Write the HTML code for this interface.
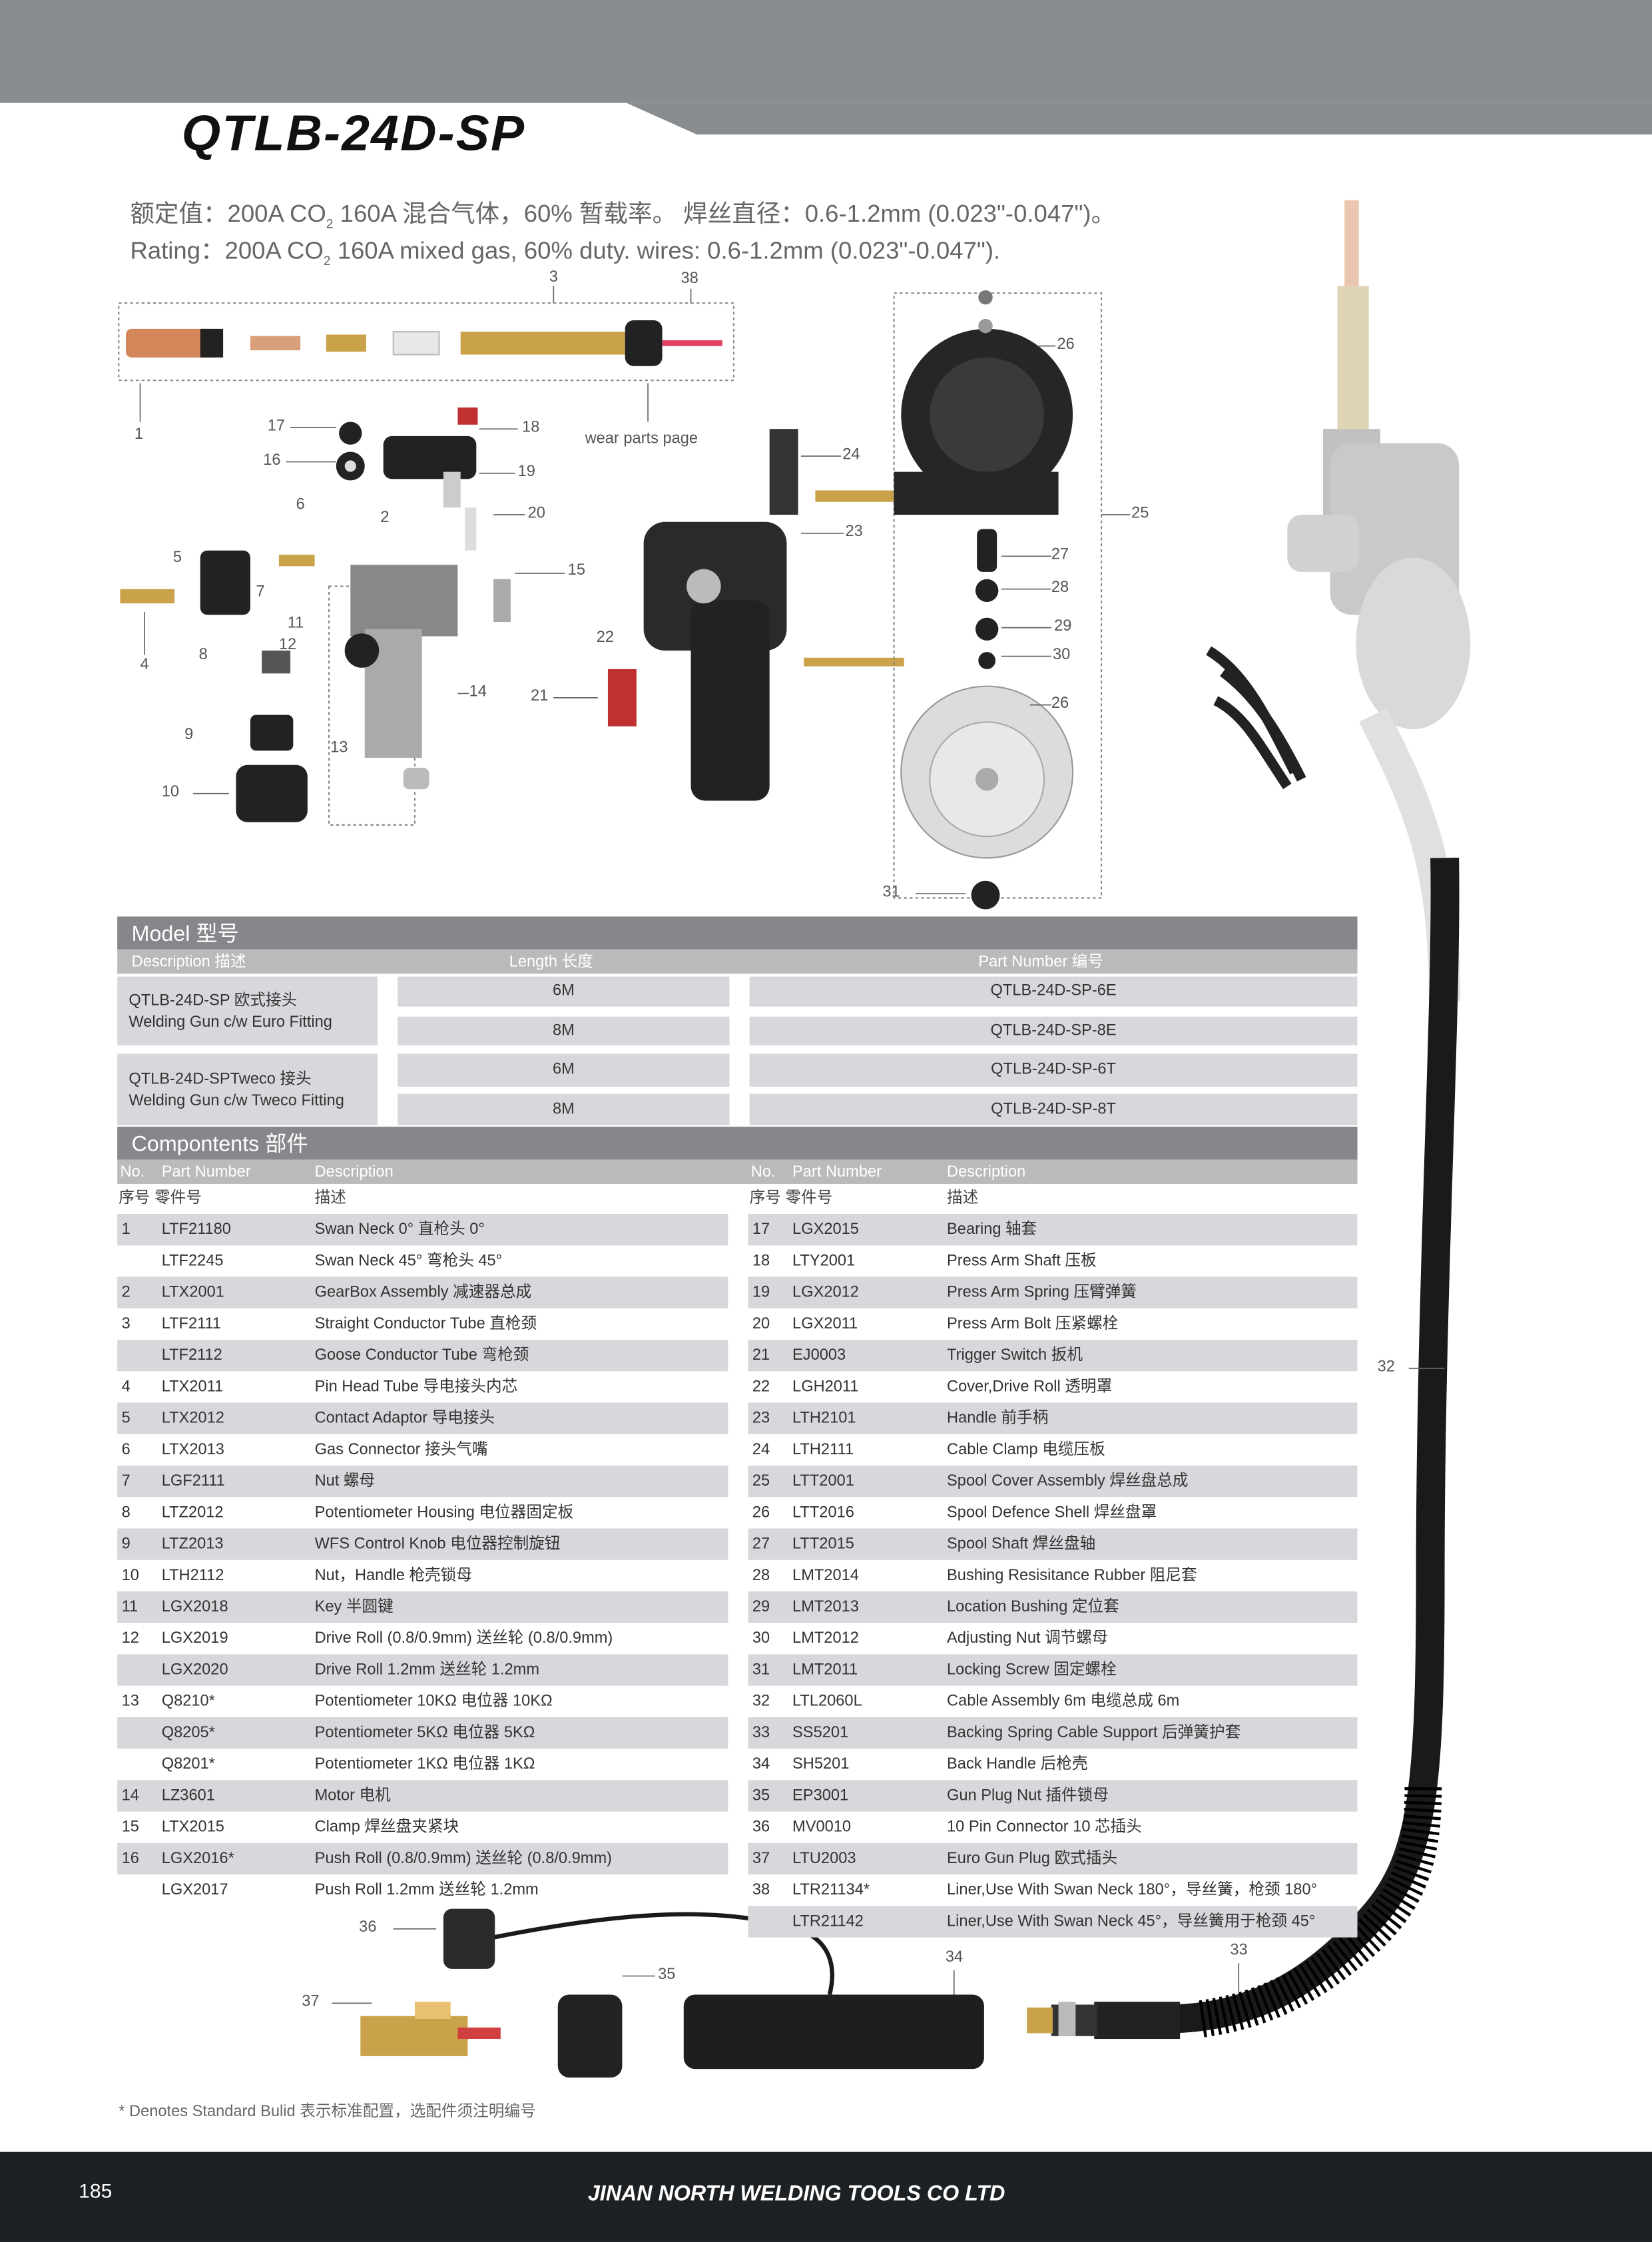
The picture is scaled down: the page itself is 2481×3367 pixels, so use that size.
<!DOCTYPE html>
<html><head><meta charset="utf-8">
<style>
html,body{margin:0;padding:0;background:#fff;}
body{width:2481px;height:3367px;overflow:hidden;position:relative;}
#p{position:absolute;left:0;top:0;width:1155px;height:1568px;transform:scale(2.1481,2.1473);transform-origin:0 0;font-family:"Liberation Sans","Noto Sans CJK SC",sans-serif;color:#333;}
.a{position:absolute;white-space:nowrap;}
.lb{position:absolute;font-size:11px;color:#555;white-space:nowrap;}
.dk{position:absolute;background:#86878b;color:#fff;}
.lt{position:absolute;background:#b8babc;color:#fff;}
.sh{position:absolute;background:#d6d8db;}
.r{position:absolute;height:22px;font-size:11px;color:#333;line-height:22px;}
.r span{position:absolute;white-space:nowrap;}
</style></head><body><div id="p">
<svg width="1155" height="1568" style="position:absolute;left:0;top:0">
<rect x="0" y="0" width="1155" height="72" fill="#8a8d8f"/>
<polygon points="438,72 487,94 1155,94 1155,72" fill="#8a8d8f"/>
<g opacity="0.45">
<rect x="935" y="200" width="22" height="100" fill="#bba060"/>
<rect x="940" y="140" width="10" height="60" fill="#d08050"/>
<rect x="925" y="300" width="40" height="60" fill="#777"/>
<rect x="930" y="310" width="90" height="120" rx="15" fill="#888"/>
<rect x="900" y="360" width="50" height="40" rx="10" fill="#999"/>
<ellipse cx="988" cy="450" rx="40" ry="60" fill="#aaa"/>
<path d="M960,500 C990,560 1010,600 1010,700" stroke="#bbb" stroke-width="22" fill="none"/>
</g>
<path d="M1010,600 C1012,700 1000,900 1000,1100 C1000,1250 995,1300 960,1340 C920,1385 880,1410 820,1412" stroke="#1a1a1a" stroke-width="20" fill="none"/>
<path d="M995,1250 C995,1300 985,1330 950,1360 C920,1385 890,1405 840,1412" stroke="#000" stroke-width="26" stroke-dasharray="2,3" fill="none"/>
<path d="M845,455 C870,470 885,500 905,540 M855,470 C875,485 890,505 910,545 M850,490 C870,500 880,520 900,550" stroke="#222" stroke-width="7" fill="none"/>
<rect x="765" y="1400" width="60" height="26" fill="#222"/>
<rect x="735" y="1402" width="32" height="22" fill="#333"/>
<rect x="718" y="1404" width="18" height="18" fill="#c9a24a"/>
<rect x="740" y="1400" width="12" height="24" fill="#bbb"/>
<rect x="83" y="212" width="430" height="54" fill="none" stroke="#888" stroke-dasharray="2,2"/>
<rect x="88" y="230" width="65" height="20" rx="4" fill="#d4875a"/>
<rect x="140" y="230" width="16" height="20" fill="#222"/>
<rect x="175" y="235" width="35" height="10" fill="#d9a07a"/>
<rect x="228" y="234" width="28" height="12" fill="#c9a24a"/>
<rect x="275" y="232" width="32" height="16" fill="#e8e8e8" stroke="#bbb"/>
<rect x="322" y="232" width="115" height="16" fill="#c9a24a"/>
<rect x="437" y="224" width="26" height="32" rx="6" fill="#222"/>
<rect x="463" y="238" width="42" height="4" fill="#e04060"/>
<rect x="230" y="410" width="60" height="167" fill="none" stroke="#888" stroke-dasharray="2,2"/>
<rect x="245" y="395" width="75" height="50" fill="#888"/>
<rect x="255" y="440" width="40" height="90" fill="#aaa"/>
<rect x="268" y="305" width="65" height="30" rx="6" fill="#222"/>
<rect x="320" y="285" width="14" height="12" fill="#c03030"/>
<circle cx="245" cy="303" r="8" fill="#222"/>
<circle cx="245" cy="326" r="10" fill="#222"/>
<circle cx="245" cy="326" r="4" fill="#ddd"/>
<circle cx="253" cy="455" r="12" fill="#222"/>
<rect x="140" y="385" width="35" height="45" rx="5" fill="#222"/>
<rect x="84" y="412" width="38" height="10" fill="#c9a24a"/>
<rect x="195" y="388" width="25" height="8" fill="#c9a24a"/>
<rect x="183" y="455" width="20" height="16" fill="#555"/>
<rect x="175" y="500" width="30" height="25" rx="4" fill="#222"/>
<rect x="165" y="535" width="50" height="40" rx="8" fill="#222"/>
<rect x="345" y="405" width="12" height="30" fill="#aaa"/>
<rect x="425" y="468" width="20" height="40" fill="#c03030"/>
<rect x="310" y="330" width="12" height="25" fill="#ccc"/>
<rect x="325" y="355" width="8" height="30" fill="#ddd"/>
<rect x="282" y="537" width="18" height="15" rx="4" fill="#bbb"/>
<rect x="450" y="365" width="100" height="90" rx="15" fill="#2a2a2a"/>
<rect x="483" y="420" width="55" height="140" rx="10" fill="#222"/>
<circle cx="492" cy="410" r="12" fill="#bbb"/>
<rect x="538" y="300" width="20" height="60" fill="#333"/>
<rect x="570" y="343" width="55" height="8" fill="#c9a24a"/>
<rect x="562" y="460" width="70" height="6" fill="#c9a24a"/>
<rect x="625" y="205" width="145" height="423" fill="none" stroke="#888" stroke-dasharray="2,2"/>
<circle cx="690" cy="290" r="60" fill="#262626"/>
<circle cx="690" cy="290" r="40" fill="#3a3a3a"/>
<rect x="625" y="330" width="115" height="30" fill="#262626"/>
<circle cx="690" cy="540" r="60" fill="#dcdcdc" stroke="#999"/>
<circle cx="690" cy="545" r="40" fill="#e8e8e8" stroke="#aaa"/>
<circle cx="690" cy="545" r="8" fill="#aaa"/>
<rect x="683" y="370" width="14" height="30" rx="4" fill="#222"/>
<circle cx="690" cy="413" r="8" fill="#222"/>
<circle cx="690" cy="440" r="8" fill="#222"/>
<circle cx="690" cy="462" r="6" fill="#222"/>
<circle cx="689" cy="626" r="10" fill="#222"/>
<circle cx="689" cy="208" r="5" fill="#777"/>
<circle cx="689" cy="228" r="5" fill="#999"/>
<g stroke="#666" stroke-width="0.8">
<line x1="387" y1="200" x2="387" y2="212"/><line x1="483" y1="202" x2="483" y2="212"/>
<line x1="98" y1="268" x2="98" y2="295"/><line x1="203" y1="299" x2="235" y2="299"/><line x1="335" y1="300" x2="362" y2="300"/>
<line x1="200" y1="323" x2="235" y2="323"/><line x1="335" y1="331" x2="360" y2="331"/><line x1="345" y1="360" x2="367" y2="360"/>
<line x1="360" y1="401" x2="395" y2="401"/><line x1="101" y1="428" x2="101" y2="458"/><line x1="320" y1="485" x2="328" y2="485"/>
<line x1="387" y1="488" x2="418" y2="488"/><line x1="135" y1="555" x2="160" y2="555"/><line x1="560" y1="319" x2="588" y2="319"/>
<line x1="560" y1="373" x2="590" y2="373"/><line x1="700" y1="389" x2="735" y2="389"/><line x1="700" y1="412" x2="735" y2="412"/>
<line x1="700" y1="439" x2="735" y2="439"/><line x1="700" y1="459" x2="735" y2="459"/><line x1="720" y1="493" x2="735" y2="493"/>
<line x1="725" y1="242" x2="738" y2="242"/><line x1="770" y1="360" x2="790" y2="360"/><line x1="640" y1="625" x2="675" y2="625"/>
<line x1="985" y1="957" x2="1010" y2="957"/><line x1="275" y1="1349" x2="305" y2="1349"/><line x1="435" y1="1382" x2="458" y2="1382"/>
<line x1="232" y1="1401" x2="260" y2="1401"/><line x1="667" y1="1378" x2="667" y2="1395"/><line x1="866" y1="1373" x2="866" y2="1393"/>
<line x1="453" y1="268" x2="453" y2="295"/>
</g>
<path d="M345,1355 C420,1340 500,1330 560,1350 C580,1358 585,1375 580,1395" stroke="#1a1a1a" stroke-width="3" fill="none"/>
<rect x="310" y="1335" width="36" height="42" rx="6" fill="#2a2a2a"/>
<rect x="252" y="1410" width="75" height="28" fill="#c9a24a"/>
<rect x="290" y="1400" width="25" height="12" fill="#e8c070"/>
<rect x="320" y="1418" width="30" height="8" fill="#d04040"/>
<rect x="390" y="1395" width="45" height="58" rx="8" fill="#222"/>
<rect x="478" y="1395" width="210" height="52" rx="8" fill="#1e1e1e"/>
<rect x="0" y="1505" width="1155" height="63" fill="#1e2124"/>
</svg>
<div class="a" style="left:127px;top:74px;font-size:35px;font-weight:bold;font-style:italic;color:#111;letter-spacing:1px">QTLB-24D-SP</div>
<div class="a" style="left:91px;top:135px;font-size:17px;color:#666">额定值：200A CO<sub style="font-size:9px">2</sub> 160A 混合气体，60% 暂载率。 焊丝直径：0.6-1.2mm (0.023"-0.047")。</div>
<div class="a" style="left:91px;top:161px;font-size:17px;color:#666">Rating：200A CO<sub style="font-size:9px">2</sub> 160A mixed gas, 60% duty. wires: 0.6-1.2mm (0.023"-0.047").</div>
<div class="lb" style="left:384px;top:188px">3</div><div class="lb" style="left:476px;top:189px">38</div>
<div class="lb" style="left:94px;top:298px">1</div><div class="lb" style="left:187px;top:292px">17</div><div class="lb" style="left:365px;top:293px">18</div>
<div class="lb" style="left:184px;top:316px">16</div><div class="lb" style="left:362px;top:324px">19</div><div class="lb" style="left:207px;top:347px">6</div>
<div class="lb" style="left:266px;top:356px">2</div><div class="lb" style="left:369px;top:353px">20</div><div class="lb" style="left:121px;top:384px">5</div>
<div class="lb" style="left:179px;top:408px">7</div><div class="lb" style="left:397px;top:393px">15</div><div class="lb" style="left:201px;top:430px">11</div>
<div class="lb" style="left:195px;top:445px">12</div><div class="lb" style="left:417px;top:440px">22</div><div class="lb" style="left:98px;top:459px">4</div>
<div class="lb" style="left:139px;top:452px">8</div><div class="lb" style="left:328px;top:478px">14</div><div class="lb" style="left:371px;top:481px">21</div>
<div class="lb" style="left:129px;top:508px">9</div><div class="lb" style="left:231px;top:517px">13</div><div class="lb" style="left:113px;top:548px">10</div>
<div class="lb" style="left:409px;top:301px">wear parts page</div>
<div class="lb" style="left:739px;top:235px">26</div><div class="lb" style="left:589px;top:312px">24</div><div class="lb" style="left:791px;top:353px">25</div>
<div class="lb" style="left:591px;top:366px">23</div><div class="lb" style="left:735px;top:382px">27</div><div class="lb" style="left:735px;top:405px">28</div>
<div class="lb" style="left:737px;top:432px">29</div><div class="lb" style="left:736px;top:452px">30</div><div class="lb" style="left:735px;top:486px">26</div>
<div class="lb" style="left:617px;top:618px">31</div><div class="lb" style="left:963px;top:950px">32</div><div class="lb" style="left:251px;top:1342px">36</div>
<div class="lb" style="left:460px;top:1375px">35</div><div class="lb" style="left:211px;top:1394px">37</div><div class="lb" style="left:661px;top:1363px">34</div>
<div class="lb" style="left:860px;top:1358px">33</div>

<div class="dk" style="left:82px;top:641px;width:867px;height:23px;font-size:15px;line-height:25px;padding-left:10px;box-sizing:border-box">Model 型号</div>
<div class="lt" style="left:82px;top:664px;width:867px;height:17px;font-size:11px;line-height:18px"><span class="a" style="left:10px">Description 描述</span><span class="a" style="left:274px">Length 长度</span><span class="a" style="left:602px">Part Number 编号</span></div>
<div class="sh" style="left:82px;top:683px;width:182px;height:48px"></div>
<div class="sh" style="left:82px;top:737px;width:182px;height:50px"></div>
<div class="a" style="left:90px;top:693px;font-size:11px;line-height:15px">QTLB-24D-SP 欧式接头<br>Welding Gun c/w Euro Fitting</div>
<div class="a" style="left:90px;top:748px;font-size:11px;line-height:15px">QTLB-24D-SPTweco 接头<br>Welding Gun c/w Tweco Fitting</div>
<div class="sh" style="left:278px;top:683px;width:232px;height:21px;font-size:11px;line-height:21px;text-align:center">6M</div>
<div class="sh" style="left:278px;top:711px;width:232px;height:20px;font-size:11px;line-height:20px;text-align:center">8M</div>
<div class="sh" style="left:278px;top:737px;width:232px;height:23px;font-size:11px;line-height:23px;text-align:center">6M</div>
<div class="sh" style="left:278px;top:765px;width:232px;height:22px;font-size:11px;line-height:22px;text-align:center">8M</div>
<div class="sh" style="left:524px;top:683px;width:425px;height:21px;font-size:11px;line-height:21px;text-align:center">QTLB-24D-SP-6E</div>
<div class="sh" style="left:524px;top:711px;width:425px;height:20px;font-size:11px;line-height:20px;text-align:center">QTLB-24D-SP-8E</div>
<div class="sh" style="left:524px;top:737px;width:425px;height:23px;font-size:11px;line-height:23px;text-align:center">QTLB-24D-SP-6T</div>
<div class="sh" style="left:524px;top:765px;width:425px;height:22px;font-size:11px;line-height:22px;text-align:center">QTLB-24D-SP-8T</div>

<div class="dk" style="left:82px;top:788px;width:867px;height:23px;font-size:15px;line-height:25px;padding-left:10px;box-sizing:border-box">Compontents 部件</div>
<div class="lt" style="left:82px;top:811px;width:867px;height:17px;font-size:11px;line-height:19px"><span class="a" style="left:2px">No.</span><span class="a" style="left:31px">Part Number</span><span class="a" style="left:138px">Description</span><span class="a" style="left:443px">No.</span><span class="a" style="left:472px">Part Number</span><span class="a" style="left:580px">Description</span></div>
<div class="a" style="left:83px;top:829px;font-size:11px;color:#444">序号 零件号</div><div class="a" style="left:220px;top:829px;font-size:11px;color:#444">描述</div>
<div class="a" style="left:524px;top:829px;font-size:11px;color:#444">序号 零件号</div><div class="a" style="left:662px;top:829px;font-size:11px;color:#444">描述</div>

<div class="r" style="left:82px;top:849px;width:427px;background:#d6d8db"><span style="left:3px">1</span><span style="left:31px">LTF21180</span><span style="left:138px">Swan Neck 0° 直枪头 0°</span></div>
<div class="r" style="left:82px;top:871px;width:427px"><span style="left:31px">LTF2245</span><span style="left:138px">Swan Neck 45° 弯枪头 45°</span></div>
<div class="r" style="left:82px;top:893px;width:427px;background:#d6d8db"><span style="left:3px">2</span><span style="left:31px">LTX2001</span><span style="left:138px">GearBox Assembly 减速器总成</span></div>
<div class="r" style="left:82px;top:915px;width:427px"><span style="left:3px">3</span><span style="left:31px">LTF2111</span><span style="left:138px">Straight Conductor Tube 直枪颈</span></div>
<div class="r" style="left:82px;top:937px;width:427px;background:#d6d8db"><span style="left:31px">LTF2112</span><span style="left:138px">Goose Conductor Tube 弯枪颈</span></div>
<div class="r" style="left:82px;top:959px;width:427px"><span style="left:3px">4</span><span style="left:31px">LTX2011</span><span style="left:138px">Pin Head Tube 导电接头内芯</span></div>
<div class="r" style="left:82px;top:981px;width:427px;background:#d6d8db"><span style="left:3px">5</span><span style="left:31px">LTX2012</span><span style="left:138px">Contact Adaptor 导电接头</span></div>
<div class="r" style="left:82px;top:1003px;width:427px"><span style="left:3px">6</span><span style="left:31px">LTX2013</span><span style="left:138px">Gas Connector 接头气嘴</span></div>
<div class="r" style="left:82px;top:1025px;width:427px;background:#d6d8db"><span style="left:3px">7</span><span style="left:31px">LGF2111</span><span style="left:138px">Nut 螺母</span></div>
<div class="r" style="left:82px;top:1047px;width:427px"><span style="left:3px">8</span><span style="left:31px">LTZ2012</span><span style="left:138px">Potentiometer Housing 电位器固定板</span></div>
<div class="r" style="left:82px;top:1069px;width:427px;background:#d6d8db"><span style="left:3px">9</span><span style="left:31px">LTZ2013</span><span style="left:138px">WFS Control Knob 电位器控制旋钮</span></div>
<div class="r" style="left:82px;top:1091px;width:427px"><span style="left:3px">10</span><span style="left:31px">LTH2112</span><span style="left:138px">Nut，Handle 枪壳锁母</span></div>
<div class="r" style="left:82px;top:1113px;width:427px;background:#d6d8db"><span style="left:3px">11</span><span style="left:31px">LGX2018</span><span style="left:138px">Key 半圆键</span></div>
<div class="r" style="left:82px;top:1135px;width:427px"><span style="left:3px">12</span><span style="left:31px">LGX2019</span><span style="left:138px">Drive Roll (0.8/0.9mm) 送丝轮 (0.8/0.9mm)</span></div>
<div class="r" style="left:82px;top:1157px;width:427px;background:#d6d8db"><span style="left:31px">LGX2020</span><span style="left:138px">Drive Roll 1.2mm 送丝轮 1.2mm</span></div>
<div class="r" style="left:82px;top:1179px;width:427px"><span style="left:3px">13</span><span style="left:31px">Q8210*</span><span style="left:138px">Potentiometer 10KΩ 电位器 10KΩ</span></div>
<div class="r" style="left:82px;top:1201px;width:427px;background:#d6d8db"><span style="left:31px">Q8205*</span><span style="left:138px">Potentiometer 5KΩ 电位器 5KΩ</span></div>
<div class="r" style="left:82px;top:1223px;width:427px"><span style="left:31px">Q8201*</span><span style="left:138px">Potentiometer 1KΩ 电位器 1KΩ</span></div>
<div class="r" style="left:82px;top:1245px;width:427px;background:#d6d8db"><span style="left:3px">14</span><span style="left:31px">LZ3601</span><span style="left:138px">Motor 电机</span></div>
<div class="r" style="left:82px;top:1267px;width:427px"><span style="left:3px">15</span><span style="left:31px">LTX2015</span><span style="left:138px">Clamp 焊丝盘夹紧块</span></div>
<div class="r" style="left:82px;top:1289px;width:427px;background:#d6d8db"><span style="left:3px">16</span><span style="left:31px">LGX2016*</span><span style="left:138px">Push Roll (0.8/0.9mm) 送丝轮 (0.8/0.9mm)</span></div>
<div class="r" style="left:82px;top:1311px;width:427px"><span style="left:31px">LGX2017</span><span style="left:138px">Push Roll 1.2mm 送丝轮 1.2mm</span></div>

<div class="r" style="left:523px;top:849px;width:426px;background:#d6d8db"><span style="left:3px">17</span><span style="left:31px">LGX2015</span><span style="left:139px">Bearing 轴套</span></div>
<div class="r" style="left:523px;top:871px;width:426px"><span style="left:3px">18</span><span style="left:31px">LTY2001</span><span style="left:139px">Press Arm Shaft 压板</span></div>
<div class="r" style="left:523px;top:893px;width:426px;background:#d6d8db"><span style="left:3px">19</span><span style="left:31px">LGX2012</span><span style="left:139px">Press Arm Spring 压臂弹簧</span></div>
<div class="r" style="left:523px;top:915px;width:426px"><span style="left:3px">20</span><span style="left:31px">LGX2011</span><span style="left:139px">Press Arm Bolt 压紧螺栓</span></div>
<div class="r" style="left:523px;top:937px;width:426px;background:#d6d8db"><span style="left:3px">21</span><span style="left:31px">EJ0003</span><span style="left:139px">Trigger Switch 扳机</span></div>
<div class="r" style="left:523px;top:959px;width:426px"><span style="left:3px">22</span><span style="left:31px">LGH2011</span><span style="left:139px">Cover,Drive Roll 透明罩</span></div>
<div class="r" style="left:523px;top:981px;width:426px;background:#d6d8db"><span style="left:3px">23</span><span style="left:31px">LTH2101</span><span style="left:139px">Handle 前手柄</span></div>
<div class="r" style="left:523px;top:1003px;width:426px"><span style="left:3px">24</span><span style="left:31px">LTH2111</span><span style="left:139px">Cable Clamp 电缆压板</span></div>
<div class="r" style="left:523px;top:1025px;width:426px;background:#d6d8db"><span style="left:3px">25</span><span style="left:31px">LTT2001</span><span style="left:139px">Spool Cover Assembly 焊丝盘总成</span></div>
<div class="r" style="left:523px;top:1047px;width:426px"><span style="left:3px">26</span><span style="left:31px">LTT2016</span><span style="left:139px">Spool Defence Shell 焊丝盘罩</span></div>
<div class="r" style="left:523px;top:1069px;width:426px;background:#d6d8db"><span style="left:3px">27</span><span style="left:31px">LTT2015</span><span style="left:139px">Spool Shaft 焊丝盘轴</span></div>
<div class="r" style="left:523px;top:1091px;width:426px"><span style="left:3px">28</span><span style="left:31px">LMT2014</span><span style="left:139px">Bushing Resisitance Rubber 阻尼套</span></div>
<div class="r" style="left:523px;top:1113px;width:426px;background:#d6d8db"><span style="left:3px">29</span><span style="left:31px">LMT2013</span><span style="left:139px">Location Bushing 定位套</span></div>
<div class="r" style="left:523px;top:1135px;width:426px"><span style="left:3px">30</span><span style="left:31px">LMT2012</span><span style="left:139px">Adjusting Nut 调节螺母</span></div>
<div class="r" style="left:523px;top:1157px;width:426px;background:#d6d8db"><span style="left:3px">31</span><span style="left:31px">LMT2011</span><span style="left:139px">Locking Screw 固定螺栓</span></div>
<div class="r" style="left:523px;top:1179px;width:426px"><span style="left:3px">32</span><span style="left:31px">LTL2060L</span><span style="left:139px">Cable Assembly 6m 电缆总成 6m</span></div>
<div class="r" style="left:523px;top:1201px;width:426px;background:#d6d8db"><span style="left:3px">33</span><span style="left:31px">SS5201</span><span style="left:139px">Backing Spring Cable Support 后弹簧护套</span></div>
<div class="r" style="left:523px;top:1223px;width:426px"><span style="left:3px">34</span><span style="left:31px">SH5201</span><span style="left:139px">Back Handle 后枪壳</span></div>
<div class="r" style="left:523px;top:1245px;width:426px;background:#d6d8db"><span style="left:3px">35</span><span style="left:31px">EP3001</span><span style="left:139px">Gun Plug Nut 插件锁母</span></div>
<div class="r" style="left:523px;top:1267px;width:426px"><span style="left:3px">36</span><span style="left:31px">MV0010</span><span style="left:139px">10 Pin Connector 10 芯插头</span></div>
<div class="r" style="left:523px;top:1289px;width:426px;background:#d6d8db"><span style="left:3px">37</span><span style="left:31px">LTU2003</span><span style="left:139px">Euro Gun Plug 欧式插头</span></div>
<div class="r" style="left:523px;top:1311px;width:426px"><span style="left:3px">38</span><span style="left:31px">LTR21134*</span><span style="left:139px">Liner,Use With Swan Neck 180°，导丝簧，枪颈 180°</span></div>
<div class="r" style="left:523px;top:1333px;width:426px;background:#d6d8db"><span style="left:31px">LTR21142</span><span style="left:139px">Liner,Use With Swan Neck 45°，导丝簧用于枪颈 45°</span></div>

<div class="a" style="left:83px;top:1468px;font-size:11px;color:#666">* Denotes Standard Bulid 表示标准配置，选配件须注明编号</div>
<div class="a" style="left:55px;top:1524px;font-size:14px;color:#fff">185</div>
<div class="a" style="left:411px;top:1526px;font-size:15px;font-weight:bold;font-style:italic;color:#fff">JINAN NORTH WELDING TOOLS CO LTD</div>
</div></body></html>
